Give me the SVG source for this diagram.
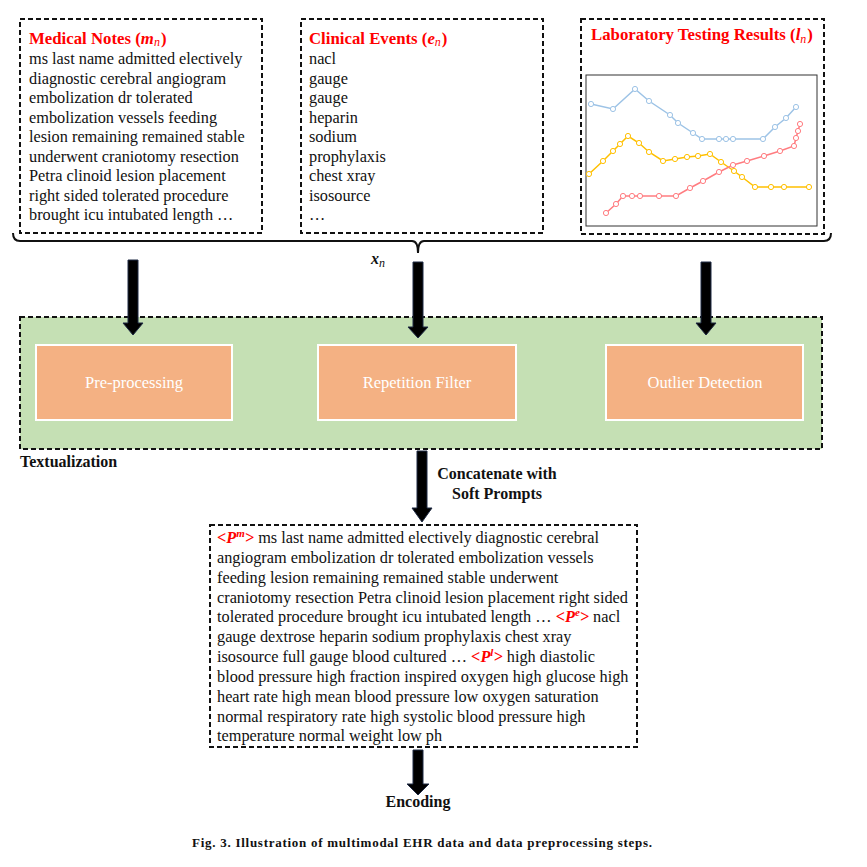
<svg xmlns="http://www.w3.org/2000/svg" width="867" height="867" viewBox="0 0 867 867">
<style>
text{font-family:"Liberation Serif","Times New Roman",serif;}
.t{font-size:16.3px;fill:#111;}
.ttl{font-size:16.8px;font-weight:bold;fill:#ff0000;}
.dash{fill:#fff;stroke:#111;stroke-width:2;stroke-dasharray:5,3;}
.orange{fill:#f4b183;stroke:#fff;stroke-width:2;}
.otext{font-size:16.5px;fill:#fff;text-anchor:middle;}
.arrow{fill:#000;stroke:#1f2a44;stroke-width:1;}
.b{font-weight:bold;}
.bl{fill:none;stroke:#9dc3e6;stroke-width:1.5;}
.yl{fill:none;stroke:#ffc000;stroke-width:1.5;}
.rl{fill:none;stroke:#ff7c80;stroke-width:1.5;}
.pm{fill:#ff0000;font-weight:bold;font-style:italic;}
</style>
<defs>
<circle id="cb" r="2.6" fill="#fff" stroke="#9dc3e6" stroke-width="1"/>
<circle id="cy" r="2.6" fill="#fff" stroke="#ffc000" stroke-width="1"/>
<circle id="cr" r="2.6" fill="#fff" stroke="#ff7c80" stroke-width="1"/>
</defs>
<rect width="867" height="867" fill="#fff"/>

<g id="medical-notes">
<rect class="dash" x="20" y="19" width="242" height="214"/>
<text x="29" y="44" class="ttl">Medical Notes (<tspan font-style="italic">m</tspan><tspan font-style="italic" font-weight="normal" font-size="12" dy="2">n</tspan><tspan dx="1" dy="-2">)</tspan></text>
<text class="t" x="29" y="64">ms last name admitted electively</text>
<text class="t" x="29" y="83.5">diagnostic cerebral angiogram</text>
<text class="t" x="29" y="103">embolization dr tolerated</text>
<text class="t" x="29" y="122.5">embolization vessels feeding</text>
<text class="t" x="29" y="142">lesion remaining remained stable</text>
<text class="t" x="29" y="161.5">underwent craniotomy resection</text>
<text class="t" x="29" y="181">Petra clinoid lesion placement</text>
<text class="t" x="29" y="200.5">right sided tolerated procedure</text>
<text class="t" x="29" y="220">brought icu intubated length …</text>
</g>

<g id="clinical-events">
<rect class="dash" x="301" y="19" width="242" height="214"/>
<text x="309" y="44" class="ttl">Clinical Events (<tspan font-style="italic">e</tspan><tspan font-style="italic" font-weight="normal" font-size="12" dy="2">n</tspan><tspan dx="1" dy="-2">)</tspan></text>
<text class="t" x="309" y="64">nacl</text>
<text class="t" x="309" y="83.5">gauge</text>
<text class="t" x="309" y="103">gauge</text>
<text class="t" x="309" y="122.5">heparin</text>
<text class="t" x="309" y="142">sodium</text>
<text class="t" x="309" y="161.5">prophylaxis</text>
<text class="t" x="309" y="181">chest xray</text>
<text class="t" x="309" y="200.5">isosource</text>
<text class="t" x="309" y="220">…</text>
</g>

<g id="lab-results">
<rect class="dash" x="581" y="19" width="243" height="215"/>
<text x="591" y="40" class="ttl">Laboratory Testing Results (<tspan font-style="italic">l</tspan><tspan font-style="italic" font-weight="normal" font-size="12" dy="3">n</tspan><tspan dx="1" dy="-3">)</tspan></text>
<rect x="586" y="75" width="231" height="151" fill="#fff" stroke="#333" stroke-width="1"/>
<polyline class="bl" points="591,104 613,109 635,89 649,101 670,115 678,123 693,133 702,139 719,139 726,139 733,139 763,139 775,127 786,118 796,107"/>
<polyline class="yl" points="589,174 603,161 613,151 620,144 628,136 639,143 649,152 663,161 675,159 687,157 698,156 710,154 721,162 734,171 742,177 755,187 771,187 784,187 809,187"/>
<polyline class="rl" points="606,213 616,204 623,196 632,196 640,196 659,196 676,196 690,188 703,181 719,172 733,165 747,161 764,156 780,151 794,146 796,138 798,131 800,124"/>
<g>
<use href="#cb" x="591" y="104"/><use href="#cb" x="613" y="109"/><use href="#cb" x="635" y="89"/><use href="#cb" x="649" y="101"/><use href="#cb" x="670" y="115"/><use href="#cb" x="678" y="123"/><use href="#cb" x="693" y="133"/><use href="#cb" x="702" y="139"/><use href="#cb" x="719" y="139"/><use href="#cb" x="726" y="139"/><use href="#cb" x="733" y="139"/><use href="#cb" x="763" y="139"/><use href="#cb" x="775" y="127"/><use href="#cb" x="786" y="118"/><use href="#cb" x="796" y="107"/>
<use href="#cy" x="589" y="174"/><use href="#cy" x="603" y="161"/><use href="#cy" x="613" y="151"/><use href="#cy" x="620" y="144"/><use href="#cy" x="628" y="136"/><use href="#cy" x="639" y="143"/><use href="#cy" x="649" y="152"/><use href="#cy" x="663" y="161"/><use href="#cy" x="675" y="159"/><use href="#cy" x="687" y="157"/><use href="#cy" x="698" y="156"/><use href="#cy" x="710" y="154"/><use href="#cy" x="721" y="162"/><use href="#cy" x="734" y="171"/><use href="#cy" x="742" y="177"/><use href="#cy" x="755" y="187"/><use href="#cy" x="771" y="187"/><use href="#cy" x="784" y="187"/><use href="#cy" x="809" y="187"/>
<use href="#cr" x="606" y="213"/><use href="#cr" x="616" y="204"/><use href="#cr" x="623" y="196"/><use href="#cr" x="632" y="196"/><use href="#cr" x="640" y="196"/><use href="#cr" x="659" y="196"/><use href="#cr" x="676" y="196"/><use href="#cr" x="690" y="188"/><use href="#cr" x="703" y="181"/><use href="#cr" x="719" y="172"/><use href="#cr" x="733" y="165"/><use href="#cr" x="747" y="161"/><use href="#cr" x="764" y="156"/><use href="#cr" x="780" y="151"/><use href="#cr" x="794" y="146"/><use href="#cr" x="796" y="138"/><use href="#cr" x="798" y="131"/><use href="#cr" x="800" y="124"/>
</g>
</g>

<g id="brace">
<path d="M13,233 Q13,241 20,241 L412,241 Q418,241 418,253 Q418,241 424,241 L824,241 Q831,241 831,233" fill="none" stroke="#111" stroke-width="2"/>
<text x="371" y="264" font-size="16" class="b" font-style="italic" fill="#111">x<tspan font-size="12" font-weight="normal" dy="3">n</tspan></text>
</g>

<g id="textualization">
<rect x="20" y="317" width="802" height="132" fill="#c5e0b4" stroke="#111" stroke-width="2" stroke-dasharray="5,3"/>
<text x="20" y="467" font-size="16" class="b" fill="#111">Textualization</text>
</g>
<g id="pre-processing">
<rect class="orange" x="36" y="345" width="196" height="75"/>
<text class="otext" x="134" y="388">Pre-processing</text>
</g>
<g id="repetition-filter">
<rect class="orange" x="318" y="345" width="198" height="75"/>
<text class="otext" x="417" y="388">Repetition Filter</text>
</g>
<g id="outlier-detection">
<rect class="orange" x="606" y="345" width="197" height="75"/>
<text class="otext" x="705" y="388">Outlier Detection</text>
</g>

<g id="prompt-text">
<rect class="dash" x="210" y="525" width="427" height="222"/>
<g class="t">
<text x="217" y="543"><tspan class="pm">&lt;P<tspan font-size="11" dy="-6">m</tspan><tspan dy="6">&gt;</tspan></tspan> ms last name admitted electively diagnostic cerebral</text>
<text x="217" y="563">angiogram embolization dr tolerated embolization vessels</text>
<text x="217" y="583">feeding lesion remaining remained stable underwent</text>
<text x="217" y="602.5">craniotomy resection Petra clinoid lesion placement right sided</text>
<text x="217" y="622">tolerated procedure brought icu intubated length … <tspan class="pm">&lt;P<tspan font-size="11" dy="-6">e</tspan><tspan dy="6">&gt;</tspan></tspan> nacl</text>
<text x="217" y="642">gauge dextrose heparin sodium prophylaxis chest xray</text>
<text x="217" y="662">isosource full gauge blood cultured … <tspan class="pm">&lt;P<tspan font-size="11" dy="-6">l</tspan><tspan dy="6">&gt;</tspan></tspan> high diastolic</text>
<text x="217" y="682">blood pressure high fraction inspired oxygen high glucose high</text>
<text x="217" y="702">heart rate high mean blood pressure low oxygen saturation</text>
<text x="217" y="721.5">normal respiratory rate high systolic blood pressure high</text>
<text x="217" y="741">temperature normal weight low ph</text>
</g>
</g>

<g id="connectors">
<polygon class="arrow" points="128,260 138,260 138,323 143,323 133,335 123,323 128,323"/>
<polygon class="arrow" points="413,262 423,262 423,327 428,327 418,338 408,327 413,327"/>
<polygon class="arrow" points="701,262 711,262 711,323 716,323 706,335 696,323 701,323"/>
<polygon class="arrow" points="417,451 427,451 427,508 432,508 422,522 412,508 417,508"/>
<polygon class="arrow" points="413,750 423,750 423,784 429,784 418,795 407,784 413,784"/>
<text x="497" y="479" font-size="16" class="b" fill="#111" text-anchor="middle">Concatenate with</text>
<text x="497" y="499" font-size="16" class="b" fill="#111" text-anchor="middle">Soft Prompts</text>
</g>

<g id="encoding">
<text x="418" y="807" font-size="16" class="b" fill="#111" text-anchor="middle">Encoding</text>
</g>

<g id="caption">
<text x="192" y="847" font-size="13" font-weight="bold" fill="#111" textLength="460" lengthAdjust="spacing">Fig. 3.  Illustration of multimodal EHR data and data preprocessing steps.</text>
</g>
</svg>
